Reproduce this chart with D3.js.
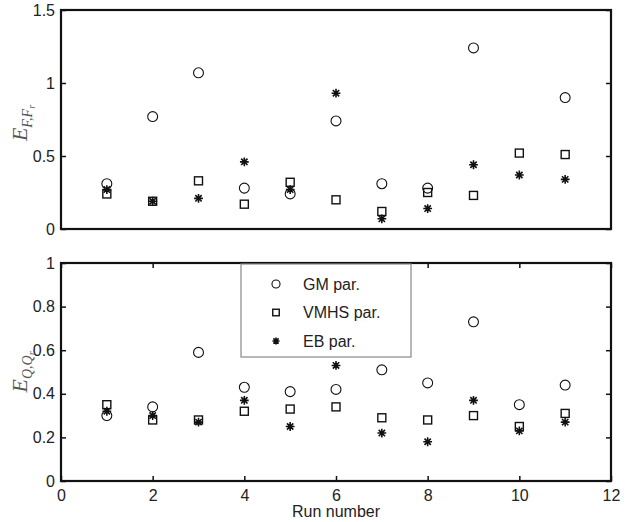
<!DOCTYPE html>
<html>
<head>
<meta charset="utf-8">
<script src="https://cdn.jsdelivr.net/npm/d3@7"></script>
<style>
  body { margin: 0; background: #fff; }
  text { font-family: "Liberation Sans", Arial, sans-serif; }
  .axis text { font-size: 16px; fill: #222; }
  .axis line { stroke: #111; stroke-width: 1.5; }
  .axis path { display: none; }
  .frame { fill: none; stroke: #111; stroke-width: 2.2; }
  .ylab { font-family: "Liberation Serif", "DejaVu Serif", serif; font-style: italic; fill: #555; }
</style>
</head>
<body>
<div id="main"></div>
<script>
var runs = [1, 2, 3, 4, 5, 6, 7, 8, 9, 10, 11];
// top panel E_{F,Fr}
var gmF   = [0.31, 0.77, 1.07, 0.28, 0.24, 0.74, 0.31, 0.28, 1.24, null, 0.90];
var vmhsF = [0.24, 0.19, 0.33, 0.17, 0.32, 0.20, 0.12, 0.25, 0.23, 0.52, 0.51];
var ebF   = [0.27, 0.19, 0.21, 0.46, 0.27, 0.93, 0.07, 0.14, 0.44, 0.37, 0.34];
// bottom panel E_{Q,Qr}
var gmQ   = [0.30, 0.34, 0.59, 0.43, 0.41, 0.42, 0.51, 0.45, 0.73, 0.35, 0.44];
var vmhsQ = [0.35, 0.28, 0.28, 0.32, 0.33, 0.34, 0.29, 0.28, 0.30, 0.25, 0.31];
var ebQ   = [0.32, 0.30, 0.27, 0.37, 0.25, 0.53, 0.22, 0.18, 0.37, 0.23, 0.27];

var seriesNames = ['GM par.', 'VMHS par.', 'EB par.'];
var markers = ['circle', 'square', 'star'];
var xTicks = [0, 2, 4, 6, 8, 10, 12];
var yTicksF = [0, 0.5, 1, 1.5];
var yTicksQ = [0, 0.2, 0.4, 0.6, 0.8, 1];

var width = 630, height = 522;
var left = 61, right = 611;

var svg = d3.select("#main").append("svg")
    .attr("width", width)
    .attr("height", height);

var x = d3.scaleLinear().domain([0, 12]).range([left, right]);
var yF = d3.scaleLinear().domain([0, 1.5]).range([229, 10]);
var yQ = d3.scaleLinear().domain([0, 1]).range([481, 263]);

function marker(sel, type, s) {
  if (type == 'circle') {
    sel.append("circle").attr("r", s * 0.62)
      .attr("fill", "none").attr("stroke", "#111").attr("stroke-width", 1.1);
  } else if (type == 'square') {
    sel.append("rect").attr("x", -s / 2).attr("y", -s / 2)
      .attr("width", s).attr("height", s)
      .attr("fill", "none").attr("stroke", "#111").attr("stroke-width", 1.4);
  } else {
    var h = s * 0.55, d = h * 0.72;
    sel.append("path")
      .attr("d", "M" + (-h) + ",0L" + h + ",0M0," + (-h) + "L0," + h +
                 "M" + (-d) + "," + (-d) + "L" + d + "," + d +
                 "M" + (-d) + "," + d + "L" + d + "," + (-d))
      .attr("stroke", "#111").attr("stroke-width", 1.6).attr("fill", "none");
  }
}

function panel(y, yTicks, series, showX) {
  var top = y.range()[1], bottom = y.range()[0];

  svg.append("g").attr("class", "axis")
    .attr("transform", "translate(" + left + ",0)")
    .call(d3.axisLeft(y).tickValues(yTicks).tickSizeInner(-5).tickSizeOuter(0)
      .tickPadding(6).tickFormat(d3.format("")));

  svg.append("g").attr("class", "axis")
    .attr("transform", "translate(" + right + ",0)")
    .call(d3.axisRight(y).tickValues(yTicks).tickSizeInner(-5).tickSizeOuter(0)
      .tickFormat(""));

  if (showX) {
    svg.append("g").attr("class", "axis")
      .attr("transform", "translate(0," + bottom + ")")
      .call(d3.axisBottom(x).tickValues(xTicks).tickSizeInner(-5).tickSizeOuter(0)
        .tickPadding(9));
    svg.append("g").attr("class", "axis")
      .attr("transform", "translate(0," + top + ")")
      .call(d3.axisTop(x).tickValues(xTicks).tickSizeInner(-5).tickSizeOuter(0)
        .tickFormat(""));
  }

  svg.append("rect").attr("class", "frame")
    .attr("x", left).attr("y", top)
    .attr("width", right - left).attr("height", bottom - top);

  series.forEach(function(vals, k) {
    var pts = runs.map(function(r, i) { return {r: r, v: vals[i]}; })
      .filter(function(d) { return d.v != null; });
    svg.selectAll(".m" + k + "-" + top)
      .data(pts)
    .enter().append("g")
      .attr("transform", function(d) { return "translate(" + x(d.r) + "," + y(d.v) + ")"; })
      .each(function() { marker(d3.select(this), markers[k], 8); });
  });
}

panel(yF, yTicksF, [gmF, vmhsF, ebF], false);
panel(yQ, yTicksQ, [gmQ, vmhsQ, ebQ], true);

// y labels
function ylab(cx, cy, sub1, sub2) {
  var t = svg.append("text").attr("class", "ylab")
    .attr("transform", "translate(" + cx + "," + cy + ") rotate(-90)")
    .attr("text-anchor", "middle");
  t.append("tspan").attr("font-size", 22).text("E");
  t.append("tspan").attr("font-size", 14).attr("dy", 5).text(sub1 + "," + sub1);
  t.append("tspan").attr("font-size", 10).attr("dy", 3).text(sub2);
}
ylab(27, 123, "F", "r");
ylab(27, 372, "Q", "r");

svg.append("text")
  .attr("x", x(6)).attr("y", 517)
  .attr("text-anchor", "middle")
  .attr("font-size", 16).attr("fill", "#222")
  .text("Run number");

// legend
var legend = svg.append("g").attr("transform", "translate(241,264)");
legend.append("rect")
  .attr("width", 170).attr("height", 93)
  .attr("fill", "#fff").attr("stroke", "#888").attr("stroke-width", 1.2);
var legRows = [20, 48.5, 77];
seriesNames.forEach(function(name, k) {
  var row = legend.append("g").attr("transform", "translate(35," + legRows[k] + ")");
  marker(row, markers[k], 6.5);
  legend.append("text")
    .attr("x", 62).attr("y", legRows[k]).attr("dy", "0.35em")
    .attr("font-size", 16).attr("fill", "#222")
    .text(name);
});
</script>
</body>
</html>
